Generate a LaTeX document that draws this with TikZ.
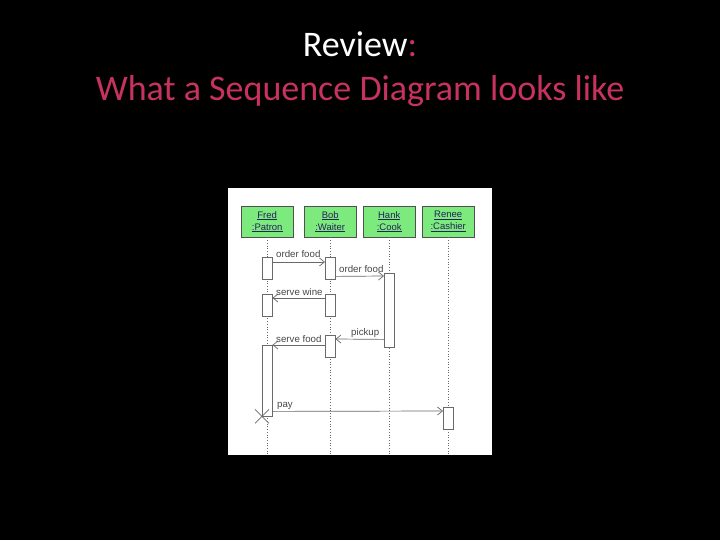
\documentclass[tikz,border=0pt]{standalone}
\usepackage{fontspec}
\setmainfont{Carlito}
\newfontfamily\umlfont{Liberation Sans}
\usetikzlibrary{arrows.meta}
\definecolor{titlepink}{RGB}{200,50,95}
\definecolor{umlgreen}{RGB}{125,234,125}
\definecolor{umltext}{RGB}{35,35,90}
\definecolor{linegray}{RGB}{105,105,105}
\definecolor{boxgray}{RGB}{80,80,80}
\begin{document}
\begin{tikzpicture}[x=1pt,y=-1pt,
  obj/.style={draw=boxgray, fill=umlgreen, minimum width=52pt, minimum height=31pt, inner sep=0pt,
    font=\umlfont\fontsize{9.5}{12}\selectfont, text=umltext, align=center, anchor=north west},
  act/.style={draw=linegray, fill=white, minimum width=10pt, inner sep=0pt, anchor=north},
  life/.style={draw=linegray, dotted, line width=0.7pt},
  msg/.style={draw=linegray, line width=0.7pt, -{Straight Barb[length=5pt,width=8pt]}},
  lbl/.style={font=\umlfont\fontsize{9.7}{11}\selectfont, text=black!72, inner sep=0pt, anchor=base west}
]
\fill[black] (0,0) rectangle (720,540);
\useasboundingbox (0,0) rectangle (720,540);
\node[font=\fontsize{36}{40}\selectfont, text=white, anchor=base] (t1) at (360,57) {Review\textcolor{titlepink}{:}};
\node[font=\fontsize{36}{40}\selectfont, text=titlepink, anchor=base] (t2) at (360,101) {What a Sequence Diagram looks like};
\node[fill=white, draw=none, minimum width=264pt, minimum height=267pt, anchor=north west, inner sep=0pt] (panel) at (228,188) {};
\coordinate (bot) at (0,454);
% objects
\node[obj] (fred) at (241,206) {\underline{Fred}\\\underline{:Patron}};
\node[obj] (bob) at (304,206) {\underline{Bob}\\\underline{:Waiter}};
\node[obj] (hank) at (363,206) {\underline{Hank}\\\underline{:Cook}};
\node[obj] (renee) at (422,206) {\underline{Renee}\\\underline{:Cashier}};
% lifelines
\foreach \o in {fred,bob,hank,renee} \draw[life] (\o.south) -- (\o.south |- bot);
% activations
\node[act, minimum height=22pt] (f1) at (fred.south |- 0,257) {};
\node[act, minimum height=22pt] (b1) at (bob.south |- 0,257) {};
\node[act, minimum height=74pt] (h1) at (hank.south |- 0,273) {};
\node[act, minimum height=22pt] (f2) at (fred.south |- 0,294) {};
\node[act, minimum height=22pt] (b2) at (bob.south |- 0,294) {};
\node[act, minimum height=22pt] (b3) at (bob.south |- 0,335) {};
\node[act, minimum height=71pt] (f3) at (fred.south |- 0,345) {};
\node[act, minimum height=22pt] (r1) at (renee.south |- 0,407) {};
% messages
\draw[msg] ([yshift=-5pt]f1.north east) -- ([yshift=-5pt]b1.north west);
\draw[msg] ([yshift=3pt]b1.south east) -- ([yshift=-3pt]h1.north west);
\draw[msg] ([yshift=-4pt]b2.north west) -- ([yshift=-4pt]f2.north east);
\draw[msg] ([yshift=8pt]h1.south west) -- ([yshift=-4pt]b3.north east);
\draw[msg] ([yshift=-10pt]b3.north west) -- (f3.north east);
\draw[msg] ([yshift=5pt]f3.south east) -- ([yshift=-4pt]r1.north west);
% destruction
\coordinate (x) at (f3.south west);
\draw[linegray, line width=0.6pt] ([xshift=-7pt,yshift=7pt]x) -- ([xshift=7pt,yshift=-7pt]x)
  ([xshift=-7pt,yshift=-7pt]x) -- ([xshift=7pt,yshift=7pt]x);
% labels
\node[lbl] (l1) at (276,258) {order food};
\node[lbl] (l2) at (339,272) {order food};
\node[lbl] (l3) at (276,295) {serve wine};
\node[lbl] (l4) at (351,335) {pickup};
\node[lbl] (l5) at (276,342) {serve food};
\node[lbl] (l6) at (277,407) {pay};
\end{tikzpicture}
\end{document}
